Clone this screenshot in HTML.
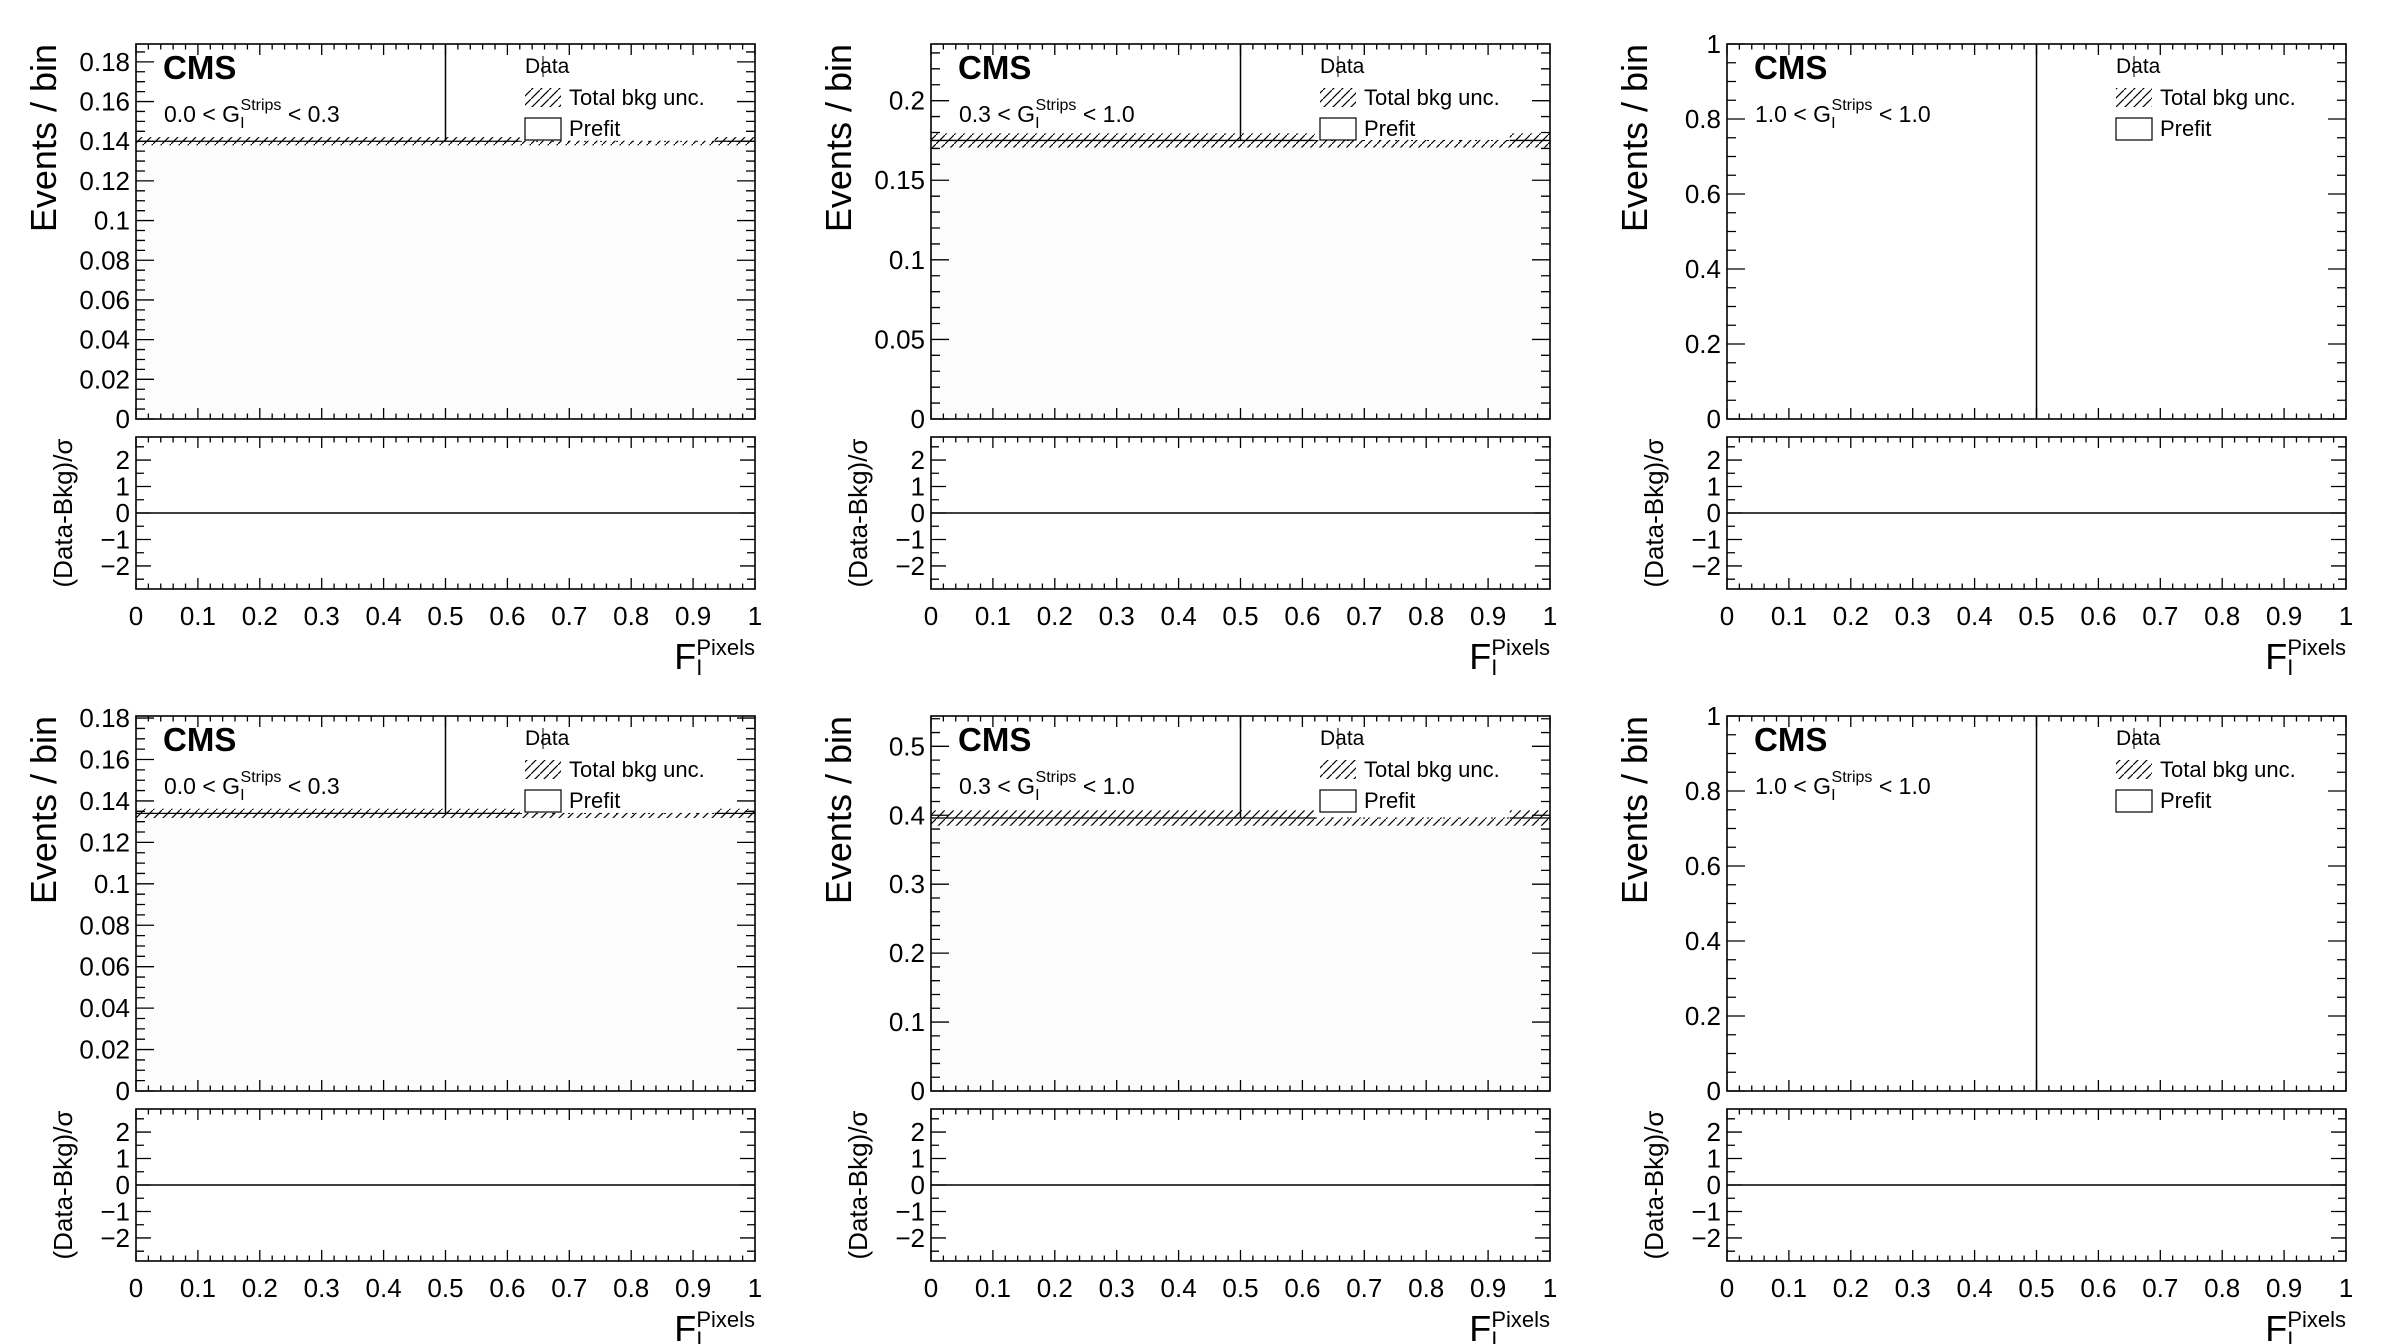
<!DOCTYPE html>
<html><head><meta charset="utf-8"><style>
html,body{margin:0;padding:0;background:#fff;}
svg{display:block;font-family:"Liberation Sans",Arial,sans-serif;}
</style></head><body>
<svg id="fig" width="2388" height="1344" viewBox="0 0 2388 1344" xmlns="http://www.w3.org/2000/svg">
<defs>
<pattern id="hatch" patternUnits="userSpaceOnUse" width="9" height="9">
<path d="M-1,10 L10,-1" stroke="#000" stroke-width="1.2"/>
</pattern>
</defs>
</svg>
<script>
// ---- data ----
const panelCuts = ["0.0","0.3","1.0","0.0","0.3","1.0"];
const panelCutsHi = ["0.3","1.0","1.0","0.3","1.0","1.0"];
const yMaxValues = [0.189,0.2356,1.0,0.181,0.544,1.0];
const bkgValues = [0.140,0.175,0,0.134,0.396,0];
const bkgUncValues = [0.0013,0.0035,0,0.0015,0.009,0];
const yTickLabels = [
 ["0","0.02","0.04","0.06","0.08","0.1","0.12","0.14","0.16","0.18"],
 ["0","0.05","0.1","0.15","0.2"],
 ["0","0.2","0.4","0.6","0.8","1"],
 ["0","0.02","0.04","0.06","0.08","0.1","0.12","0.14","0.16","0.18"],
 ["0","0.1","0.2","0.3","0.4","0.5"],
 ["0","0.2","0.4","0.6","0.8","1"]
];
const yMinorStep = [0.005,0.01,0.05,0.005,0.02,0.05];
const xTickLabels = ["0","0.1","0.2","0.3","0.4","0.5","0.6","0.7","0.8","0.9","1"];
const ratioTickLabels = ["-2","-1","0","1","2"];
const dataX = [0.5];

const svg = document.getElementById('fig');
const NS = 'http://www.w3.org/2000/svg';
function mk(tag, attrs, parent){ const e=document.createElementNS(NS,tag); for(const k in attrs) e.setAttribute(k,attrs[k]); (parent||svg).appendChild(e); return e; }

const colLeft=[136,931,1727], W=619;
const rowTop=[44,716];
const MH=375, RGAP=18, RH=152;

for(let p=0;p<6;p++){
  const L=colLeft[p%3], T=rowTop[Math.floor(p/3)], R=L+W, B=T+MH;
  const RT=B+RGAP, RB=RT+RH;
  const g=mk('g',{});
  
  
  const ymax=yMaxValues[p];
  const X=v=>L+v*W;
  const Y=v=>B-v/ymax*MH;
  const rmax=2.87;
  const YR=v=>(RT+RB)/2 - v/rmax*(RH/2);

  const bk=bkgValues[p], bu=bkgUncValues[p];
  if(bk>0){
    const f=mk('rect',{x:L,y:Y(bk),width:W,height:B-Y(bk),fill:'#fcfcfc'},g);
    
    
    const band=mk('rect',{x:L,y:Y(bk+bu)-1.5,width:W,height:Math.max(Y(bk-bu)-Y(bk+bu),1)+3,fill:'url(#hatch)'},g);
    
    
    const bl=mk('line',{x1:L,x2:R,y1:Y(bk),y2:Y(bk),stroke:'#000','stroke-width':1,'stroke-dasharray':'2,14'},g);
    
    
  }
  const lcTop=T+1, lcBot=bk>0?Y(bk)-0.5:T+110;
  const lc=mk('rect',{x:X(0.62),y:lcTop,width:X(0.935)-X(0.62),height:lcBot-lcTop,fill:'#fff'},g);
  
  
  if(bk>0){
    const solid=mk('line',{x1:L,x2:X(0.62),y1:Y(bk),y2:Y(bk),stroke:'#000','stroke-width':1.3},g);
    
    
    const solid2=mk('line',{x1:X(0.935),x2:R,y1:Y(bk),y2:Y(bk),stroke:'#000','stroke-width':1.3},g);
    
    
  }
  dataX.forEach(dx=>{
    const yEnd = bk>0?Y(bk):B;
    const dl=mk('line',{x1:X(dx),x2:X(dx),y1:T,y2:yEnd,stroke:'#000','stroke-width':1.5},g);
    
    
  });
  const fr=mk('rect',{x:L,y:T,width:W,height:MH,fill:'none',stroke:'#000','stroke-width':1.6},g);
  
  
  const rf=mk('rect',{x:L,y:RT,width:W,height:RH,fill:'none',stroke:'#000','stroke-width':1.6},g);
  
  
  const zl=mk('line',{x1:L,x2:R,y1:YR(0),y2:YR(0),stroke:'#000','stroke-width':1.5},g);
  
  

  let d='';
  for(let i=0;i<=50;i++){
    const v=i/50, x=X(v), len=(i%5==0)?11:5.5;
    d+=`M${x},${B}v${-len}M${x},${T}v${len}M${x},${RB}v${-len}M${x},${RT}v${len}`;
  }
  const step=yMinorStep[p];
  for(let i=0;i*step<=ymax+1e-9;i++){
    const v=i*step, y=Y(v);
    const isMaj=yTickLabels[p].some(t=>Math.abs(parseFloat(t)-v)<1e-9);
    const len=isMaj?18:9;
    d+=`M${L},${y}h${len}M${R},${y}h${-len}`;
  }
  for(let i=-5;i<=5;i++){
    const v=i*0.5, y=YR(v), len=(i%2==0)?15:8;
    d+=`M${L},${y}h${len}M${R},${y}h${-len}`;
  }
  const tk=mk('path',{d:d,stroke:'#000','stroke-width':1.3,fill:'none'},g);
  
  

  yTickLabels[p].forEach(t=>{
    const e=mk('text',{x:L-6,y:Y(parseFloat(t))+9,'text-anchor':'end','font-size':26},g);
    e.textContent=t;
    
    
  });
  ratioTickLabels.forEach(t=>{
    const e=mk('text',{x:L-6,y:YR(parseFloat(t))+9,'text-anchor':'end','font-size':26},g);
    e.textContent=t.replace('-','\u2212');
    
    
  });
  xTickLabels.forEach(t=>{
    const e=mk('text',{x:X(parseFloat(t)),y:RB+36,'text-anchor':'middle','font-size':26},g);
    e.textContent=t;
    
    
  });
  const yt=mk('text',{transform:`translate(${L-80},${T}) rotate(-90)`,'text-anchor':'end','font-size':36},g);
  yt.textContent='Events / bin';
  
  
  const rt=mk('text',{transform:`translate(${L-64},${(RT+RB)/2}) rotate(-90)`,'text-anchor':'middle','font-size':26},g);
  rt.textContent='(Data-Bkg)/\u03c3';
  
  
  const xt=mk('text',{x:R,y:RB+80,'text-anchor':'end','font-size':36},g);
  xt.innerHTML='F<tspan font-size="22" dy="6">I</tspan><tspan font-size="22" dx="-6" dy="-20">Pixels</tspan>';
  
  

  const cms=mk('text',{x:L+27,y:T+35,'font-size':33,'font-weight':'bold'},g);
  cms.textContent='CMS';
  
  
  const cut=mk('text',{x:L+28,y:T+78,'font-size':23},g);
  cut.innerHTML=panelCuts[p]+' &lt; G<tspan font-size="16" dy="6">I</tspan><tspan font-size="16" dx="-4" dy="-18">Strips</tspan><tspan dy="12"> &lt; '+panelCutsHi[p]+'</tspan>';
  
  

  const lx=L+389;
  const lg=mk('g',{},g);
  
  
  const t1=mk('text',{x:lx,y:T+29,'font-size':21},lg);
  t1.textContent='Data';
  
  
  const dm=mk('line',{x1:lx+18,x2:lx+18,y1:T+12,y2:T+33,stroke:'#000','stroke-width':1},lg);
  
  
  const hb=mk('rect',{x:lx,y:T+44,width:36,height:19,fill:'url(#hatch)'},lg);
  
  
  const t2=mk('text',{x:lx+44,y:T+61,'font-size':22},lg);
  t2.textContent='Total bkg unc.';
  
  
  const pb=mk('rect',{x:lx,y:T+74,width:36,height:22,fill:'#fff',stroke:'#000','stroke-width':1.2},lg);
  
  
  const t3=mk('text',{x:lx+44,y:T+92,'font-size':22},lg);
  t3.textContent='Prefit';
  
  
}
</script>
</body></html>
